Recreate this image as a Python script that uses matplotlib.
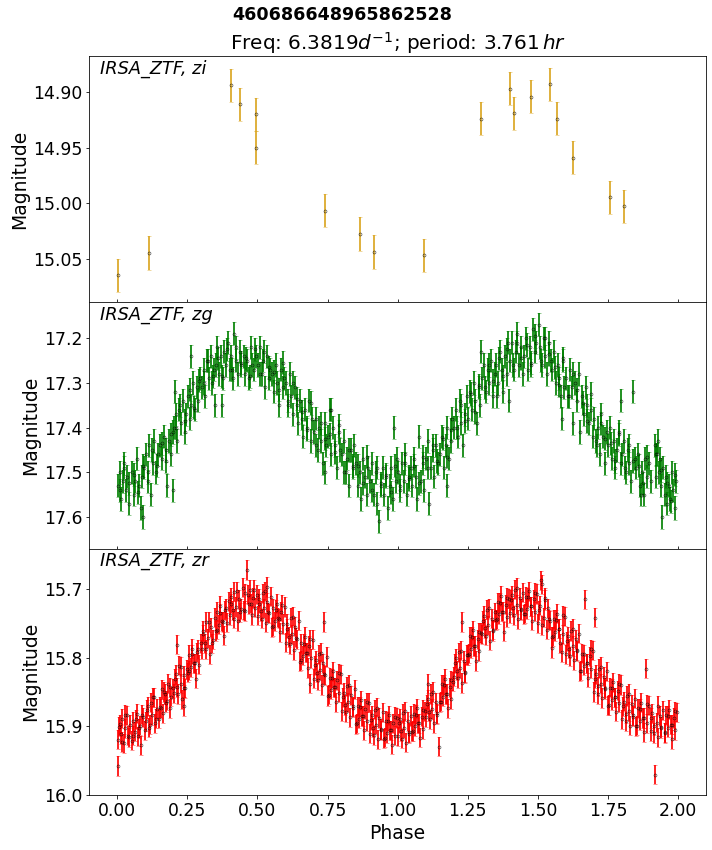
import numpy as np
import matplotlib
matplotlib.use("Agg")
import matplotlib.pyplot as plt

source_id = "460686648965862528"
freq = 6.3819
period_hr = 3.761

# (phase, magnitude)
zi_points = [
    (0.001, 15.065), (0.113, 15.045), (0.407, 14.894), (0.439, 14.911), (0.496, 14.920),
    (0.496, 14.950), (0.742, 15.007), (0.867, 15.028), (0.917, 15.044), (1.095, 15.047),
    (1.299, 14.924), (1.399, 14.897), (1.416, 14.919), (1.477, 14.904), (1.545, 14.893),
    (1.570, 14.924), (1.627, 14.959), (1.759, 14.995), (1.808, 15.003),
]

zg_points = [
    (0.002, 17.53), (0.008, 17.50), (0.013, 17.56), (0.019, 17.52), (0.024, 17.48), (0.031, 17.54), (0.036, 17.51), (0.043, 17.57),
    (0.052, 17.50), (0.058, 17.55), (0.064, 17.52), (0.071, 17.47), (0.077, 17.53), (0.083, 17.58), (0.089, 17.51), (0.093, 17.60), (0.095, 17.49),
    (0.102, 17.46), (0.108, 17.52), (0.113, 17.44), (0.119, 17.55), (0.126, 17.48), (0.132, 17.43), (0.138, 17.50), (0.145, 17.46),
    (0.153, 17.44), (0.159, 17.47), (0.166, 17.42), (0.172, 17.45), (0.178, 17.53), (0.185, 17.43), (0.191, 17.46), (0.197, 17.41), (0.200, 17.54),
    (0.203, 17.40), (0.206, 17.32), (0.209, 17.37), (0.214, 17.43), (0.221, 17.36), (0.227, 17.39), (0.233, 17.34), (0.240, 17.41), (0.246, 17.37),
    (0.252, 17.33), (0.258, 17.38), (0.263, 17.24), (0.263, 17.35), (0.270, 17.30), (0.276, 17.36), (0.283, 17.31), (0.289, 17.34), (0.295, 17.29),
    (0.302, 17.31), (0.308, 17.27), (0.314, 17.33), (0.320, 17.25), (0.327, 17.29), (0.333, 17.24), (0.339, 17.30), (0.345, 17.27), (0.348, 17.35),
    (0.352, 17.26), (0.357, 17.22), (0.363, 17.28), (0.369, 17.24), (0.372, 17.35), (0.376, 17.29), (0.382, 17.23), (0.388, 17.26), (0.394, 17.21),
    (0.401, 17.27), (0.406, 17.24), (0.412, 17.29), (0.417, 17.19), (0.423, 17.25), (0.429, 17.28), (0.436, 17.23), (0.442, 17.26),
    (0.451, 17.24), (0.457, 17.28), (0.463, 17.25), (0.469, 17.29), (0.476, 17.22), (0.482, 17.26), (0.489, 17.27), (0.495, 17.24),
    (0.503, 17.26), (0.509, 17.22), (0.515, 17.28), (0.521, 17.25), (0.528, 17.31), (0.534, 17.24), (0.540, 17.29), (0.546, 17.27),
    (0.553, 17.28), (0.559, 17.32), (0.565, 17.26), (0.571, 17.30), (0.578, 17.35), (0.584, 17.27), (0.590, 17.31), (0.596, 17.29),
    (0.603, 17.30), (0.609, 17.34), (0.615, 17.28), (0.621, 17.33), (0.627, 17.37), (0.634, 17.31), (0.640, 17.35), (0.646, 17.39),
    (0.652, 17.34), (0.658, 17.38), (0.664, 17.42), (0.671, 17.36), (0.677, 17.40), (0.683, 17.34), (0.690, 17.43), (0.696, 17.38),
    (0.703, 17.41), (0.709, 17.38), (0.715, 17.45), (0.721, 17.40), (0.727, 17.43), (0.733, 17.48), (0.740, 17.39), (0.741, 17.50), (0.746, 17.44),
    (0.752, 17.42), (0.758, 17.36), (0.762, 17.36), (0.764, 17.46), (0.770, 17.40), (0.777, 17.44), (0.783, 17.49), (0.789, 17.41), (0.795, 17.45),
    (0.802, 17.46), (0.808, 17.43), (0.814, 17.50), (0.820, 17.47), (0.827, 17.53), (0.833, 17.45), (0.839, 17.49), (0.845, 17.44),
    (0.852, 17.48), (0.858, 17.53), (0.864, 17.50), (0.871, 17.56), (0.877, 17.47), (0.883, 17.51), (0.889, 17.55), (0.895, 17.49),
    (0.902, 17.52), (0.908, 17.48), (0.914, 17.55), (0.921, 17.50), (0.927, 17.57), (0.934, 17.61), (0.940, 17.53), (0.946, 17.49),
    (0.952, 17.55), (0.958, 17.51), (0.964, 17.58), (0.971, 17.53), (0.977, 17.49), (0.983, 17.56), (0.987, 17.40), (0.993, 17.52), (0.998, 17.47),
    (1.003, 17.50), (1.009, 17.54), (1.015, 17.48), (1.021, 17.52), (1.027, 17.46), (1.034, 17.55), (1.040, 17.51), (1.046, 17.49),
    (1.052, 17.53), (1.058, 17.47), (1.064, 17.51), (1.070, 17.56), (1.077, 17.42), (1.083, 17.52), (1.089, 17.48), (1.095, 17.54),
    (1.102, 17.47), (1.108, 17.43), (1.112, 17.57), (1.119, 17.49), (1.125, 17.45), (1.131, 17.51), (1.138, 17.44), (1.144, 17.48),
    (1.152, 17.46), (1.158, 17.42), (1.164, 17.49), (1.171, 17.44), (1.175, 17.53), (1.177, 17.40), (1.183, 17.47), (1.189, 17.43), (1.195, 17.38),
    (1.202, 17.40), (1.208, 17.36), (1.214, 17.42), (1.221, 17.34), (1.227, 17.39), (1.233, 17.44), (1.240, 17.37), (1.246, 17.33),
    (1.252, 17.38), (1.258, 17.32), (1.264, 17.36), (1.271, 17.30), (1.277, 17.34), (1.283, 17.39), (1.289, 17.31), (1.295, 17.35), (1.298, 17.23),
    (1.302, 17.29), (1.308, 17.26), (1.314, 17.32), (1.321, 17.27), (1.327, 17.30), (1.333, 17.25), (1.340, 17.33), (1.346, 17.28),
    (1.352, 17.26), (1.354, 17.33), (1.358, 17.30), (1.364, 17.23), (1.371, 17.27), (1.377, 17.32), (1.383, 17.24), (1.389, 17.28), (1.395, 17.21), (1.398, 17.34),
    (1.402, 17.25), (1.408, 17.21), (1.414, 17.27), (1.421, 17.23), (1.427, 17.19), (1.433, 17.26), (1.440, 17.22), (1.446, 17.28),
    (1.452, 17.24), (1.458, 17.20), (1.464, 17.27), (1.471, 17.22), (1.477, 17.26), (1.483, 17.18), (1.489, 17.23), (1.495, 17.21),
    (1.503, 17.17), (1.508, 17.22), (1.514, 17.26), (1.521, 17.20), (1.527, 17.24), (1.533, 17.28), (1.540, 17.21), (1.546, 17.25),
    (1.552, 17.27), (1.558, 17.23), (1.564, 17.30), (1.571, 17.26), (1.577, 17.29), (1.583, 17.33), (1.587, 17.38), (1.589, 17.25), (1.595, 17.31),
    (1.602, 17.29), (1.608, 17.33), (1.614, 17.27), (1.621, 17.31), (1.627, 17.39), (1.634, 17.30), (1.640, 17.34), (1.646, 17.28),
    (1.652, 17.41), (1.658, 17.33), (1.664, 17.37), (1.671, 17.31), (1.677, 17.35), (1.683, 17.39), (1.690, 17.36), (1.696, 17.42),
    (1.702, 17.38), (1.708, 17.43), (1.714, 17.40), (1.721, 17.46), (1.727, 17.37), (1.733, 17.42), (1.740, 17.48), (1.746, 17.41),
    (1.752, 17.44), (1.758, 17.40), (1.764, 17.47), (1.771, 17.43), (1.777, 17.49), (1.783, 17.45), (1.789, 17.41), (1.795, 17.48), (1.797, 17.34),
    (1.802, 17.46), (1.808, 17.43), (1.814, 17.50), (1.821, 17.45), (1.827, 17.48), (1.833, 17.52), (1.840, 17.32), (1.846, 17.47),
    (1.852, 17.49), (1.858, 17.46), (1.864, 17.53), (1.868, 17.55), (1.871, 17.50), (1.877, 17.55), (1.883, 17.47), (1.889, 17.51), (1.895, 17.48),
    (1.903, 17.52), (1.918, 17.44), (1.922, 17.46), (1.927, 17.43), (1.931, 17.50), (1.936, 17.47), (1.940, 17.53), (1.943, 17.60), (1.947, 17.49),
    (1.952, 17.55), (1.957, 17.51), (1.962, 17.57), (1.967, 17.53), (1.972, 17.56), (1.977, 17.50), (1.983, 17.54), (1.988, 17.58), (1.994, 17.52),
    # second, denser pass over the same curve
    (0.010, 17.54), (0.025, 17.49), (0.040, 17.525), (0.060, 17.505), (0.075, 17.545), (0.090, 17.485),
    (0.110, 17.50), (0.125, 17.45), (0.140, 17.485), (0.160, 17.435), (0.175, 17.475), (0.190, 17.415),
    (0.210, 17.40), (0.225, 17.35), (0.240, 17.385), (0.260, 17.315), (0.275, 17.355), (0.290, 17.295),
    (0.310, 17.30), (0.325, 17.25), (0.340, 17.285), (0.360, 17.245), (0.375, 17.285), (0.390, 17.225),
    (0.410, 17.27), (0.425, 17.22), (0.440, 17.255), (0.460, 17.245), (0.475, 17.285), (0.490, 17.225),
    (0.510, 17.28), (0.525, 17.23), (0.540, 17.265), (0.560, 17.275), (0.575, 17.315), (0.590, 17.255),
    (0.610, 17.35), (0.625, 17.30), (0.640, 17.335), (0.660, 17.365), (0.675, 17.405), (0.690, 17.345),
    (0.710, 17.44), (0.725, 17.39), (0.740, 17.425), (0.760, 17.415), (0.775, 17.455), (0.790, 17.395),
    (0.810, 17.50), (0.825, 17.45), (0.840, 17.485), (0.860, 17.485), (0.875, 17.525), (0.890, 17.465),
    (0.910, 17.54), (0.925, 17.49), (0.940, 17.525), (0.960, 17.505), (0.975, 17.545), (0.990, 17.485),
    (1.010, 17.53), (1.025, 17.48), (1.040, 17.515), (1.060, 17.485), (1.075, 17.525), (1.090, 17.465),
    (1.110, 17.49), (1.125, 17.44), (1.140, 17.475), (1.160, 17.425), (1.175, 17.465), (1.190, 17.405),
    (1.210, 17.40), (1.225, 17.35), (1.240, 17.385), (1.260, 17.325), (1.275, 17.365), (1.290, 17.305),
    (1.310, 17.31), (1.325, 17.26), (1.340, 17.295), (1.360, 17.245), (1.375, 17.285), (1.390, 17.225),
    (1.410, 17.26), (1.425, 17.21), (1.440, 17.245), (1.460, 17.215), (1.475, 17.255), (1.490, 17.195),
    (1.510, 17.25), (1.525, 17.20), (1.540, 17.235), (1.560, 17.265), (1.575, 17.305), (1.590, 17.245),
    (1.610, 17.33), (1.625, 17.28), (1.640, 17.315), (1.660, 17.345), (1.675, 17.385), (1.690, 17.325),
    (1.710, 17.44), (1.725, 17.39), (1.740, 17.425), (1.760, 17.435), (1.775, 17.475), (1.790, 17.415),
    (1.810, 17.49), (1.825, 17.44), (1.840, 17.475), (1.860, 17.485), (1.875, 17.525), (1.890, 17.465),
    (1.920, 17.51), (1.925, 17.46), (1.940, 17.495), (1.960, 17.525), (1.975, 17.565), (1.990, 17.505),
]

zr_points = [
    (0.002, 15.920), (0.004, 15.958), (0.008, 15.897), (0.013, 15.912), (0.018, 15.889), (0.023, 15.925), (0.029, 15.903), (0.035, 15.884), (0.041, 15.916), (0.046, 15.898),
    (0.052, 15.921), (0.057, 15.893), (0.063, 15.908), (0.069, 15.882), (0.074, 15.915), (0.080, 15.899), (0.086, 15.928), (0.091, 15.887), (0.097, 15.906),
    (0.102, 15.893), (0.108, 15.871), (0.113, 15.902), (0.119, 15.866), (0.125, 15.884), (0.131, 15.858), (0.136, 15.896), (0.142, 15.875), (0.147, 15.889),
    (0.153, 15.872), (0.158, 15.846), (0.164, 15.881), (0.170, 15.853), (0.175, 15.866), (0.181, 15.838), (0.187, 15.874), (0.192, 15.857), (0.198, 15.845),
    (0.203, 15.852), (0.209, 15.824), (0.212, 15.781), (0.214, 15.843), (0.220, 15.812), (0.226, 15.838), (0.231, 15.861), (0.237, 15.826), (0.238, 15.871), (0.243, 15.845), (0.248, 15.817),
    (0.252, 15.822), (0.257, 15.796), (0.263, 15.814), (0.268, 15.787), (0.274, 15.808), (0.280, 15.831), (0.285, 15.792), (0.291, 15.810), (0.297, 15.779),
    (0.302, 15.788), (0.307, 15.761), (0.313, 15.779), (0.318, 15.748), (0.324, 15.772), (0.330, 15.795), (0.335, 15.756), (0.341, 15.774), (0.347, 15.742),
    (0.352, 15.761), (0.357, 15.733), (0.363, 15.752), (0.368, 15.724), (0.374, 15.747), (0.380, 15.768), (0.385, 15.731), (0.391, 15.749), (0.397, 15.718),
    (0.402, 15.738), (0.407, 15.712), (0.413, 15.731), (0.418, 15.704), (0.424, 15.726), (0.430, 15.747), (0.435, 15.715), (0.441, 15.729), (0.447, 15.698),
    (0.452, 15.731), (0.457, 15.706), (0.463, 15.672), (0.468, 15.722), (0.474, 15.701), (0.480, 15.738), (0.485, 15.713), (0.491, 15.727), (0.497, 15.708),
    (0.502, 15.739), (0.507, 15.714), (0.513, 15.732), (0.518, 15.706), (0.524, 15.728), (0.530, 15.749), (0.534, 15.697), (0.535, 15.719), (0.541, 15.735), (0.547, 15.711),
    (0.552, 15.756), (0.557, 15.728), (0.563, 15.747), (0.568, 15.721), (0.574, 15.742), (0.580, 15.763), (0.585, 15.733), (0.591, 15.751), (0.597, 15.726),
    (0.602, 15.778), (0.607, 15.751), (0.613, 15.770), (0.618, 15.742), (0.624, 15.766), (0.630, 15.789), (0.635, 15.755), (0.641, 15.773), (0.647, 15.746),
    (0.652, 15.806), (0.657, 15.779), (0.663, 15.797), (0.668, 15.770), (0.674, 15.793), (0.680, 15.815), (0.685, 15.783), (0.689, 15.838), (0.691, 15.801), (0.697, 15.774),
    (0.702, 15.831), (0.707, 15.804), (0.713, 15.822), (0.718, 15.795), (0.724, 15.818), (0.730, 15.840), (0.735, 15.808), (0.736, 15.748), (0.741, 15.826), (0.747, 15.799),
    (0.752, 15.856), (0.757, 15.829), (0.763, 15.847), (0.768, 15.820), (0.774, 15.843), (0.780, 15.865), (0.785, 15.833), (0.791, 15.851), (0.797, 15.824),
    (0.802, 15.878), (0.807, 15.851), (0.813, 15.869), (0.818, 15.842), (0.824, 15.865), (0.830, 15.887), (0.835, 15.855), (0.841, 15.873), (0.847, 15.846),
    (0.852, 15.897), (0.857, 15.871), (0.863, 15.889), (0.868, 15.862), (0.874, 15.885), (0.880, 15.906), (0.885, 15.875), (0.891, 15.893), (0.897, 15.866),
    (0.902, 15.911), (0.907, 15.884), (0.913, 15.902), (0.918, 15.876), (0.924, 15.898), (0.930, 15.919), (0.935, 15.888), (0.941, 15.906), (0.947, 15.880),
    (0.952, 15.918), (0.957, 15.892), (0.963, 15.910), (0.968, 15.884), (0.974, 15.906), (0.980, 15.927), (0.985, 15.896), (0.991, 15.914), (0.997, 15.888),
    (1.002, 15.915), (1.008, 15.889), (1.013, 15.907), (1.019, 15.881), (1.024, 15.903), (1.030, 15.924), (1.036, 15.893), (1.041, 15.911), (1.047, 15.885),
    (1.052, 15.908), (1.058, 15.882), (1.063, 15.900), (1.069, 15.874), (1.074, 15.896), (1.080, 15.917), (1.086, 15.886), (1.091, 15.904), (1.097, 15.878),
    (1.102, 15.887), (1.108, 15.861), (1.110, 15.838), (1.113, 15.879), (1.119, 15.853), (1.124, 15.875), (1.130, 15.896), (1.136, 15.865), (1.141, 15.883), (1.146, 15.930),
    (1.152, 15.865), (1.158, 15.839), (1.163, 15.857), (1.169, 15.831), (1.174, 15.853), (1.180, 15.874), (1.186, 15.843), (1.191, 15.861), (1.197, 15.835),
    (1.202, 15.828), (1.208, 15.801), (1.213, 15.819), (1.219, 15.792), (1.224, 15.815), (1.228, 15.748), (1.230, 15.837), (1.236, 15.805), (1.241, 15.823), (1.247, 15.796),
    (1.252, 15.796), (1.258, 15.769), (1.263, 15.787), (1.269, 15.760), (1.274, 15.783), (1.280, 15.805), (1.286, 15.773), (1.291, 15.791), (1.297, 15.764),
    (1.302, 15.766), (1.308, 15.739), (1.313, 15.757), (1.319, 15.730), (1.324, 15.753), (1.330, 15.775), (1.336, 15.743), (1.341, 15.761), (1.347, 15.734),
    (1.352, 15.745), (1.358, 15.719), (1.363, 15.737), (1.369, 15.710), (1.374, 15.733), (1.380, 15.762), (1.386, 15.723), (1.391, 15.741), (1.397, 15.714),
    (1.402, 15.735), (1.408, 15.709), (1.413, 15.727), (1.419, 15.701), (1.424, 15.723), (1.430, 15.744), (1.436, 15.713), (1.441, 15.731), (1.447, 15.705),
    (1.452, 15.737), (1.458, 15.711), (1.463, 15.729), (1.469, 15.703), (1.474, 15.725), (1.480, 15.746), (1.486, 15.715), (1.491, 15.733), (1.497, 15.707),
    (1.502, 15.750), (1.508, 15.724), (1.512, 15.687), (1.516, 15.693), (1.521, 15.742), (1.527, 15.716), (1.533, 15.759), (1.538, 15.728), (1.544, 15.746), (1.549, 15.786),
    (1.552, 15.770), (1.558, 15.744), (1.563, 15.762), (1.569, 15.736), (1.574, 15.758), (1.580, 15.779), (1.585, 15.792), (1.591, 15.766), (1.597, 15.740),
    (1.602, 15.795), (1.608, 15.769), (1.613, 15.787), (1.619, 15.761), (1.624, 15.783), (1.630, 15.804), (1.636, 15.773), (1.641, 15.791), (1.647, 15.765),
    (1.652, 15.820), (1.658, 15.794), (1.663, 15.812), (1.669, 15.715), (1.674, 15.808), (1.680, 15.829), (1.686, 15.798), (1.691, 15.816), (1.697, 15.790),
    (1.702, 15.850), (1.704, 15.742), (1.708, 15.824), (1.713, 15.842), (1.719, 15.816), (1.724, 15.838), (1.730, 15.859), (1.736, 15.828), (1.741, 15.846), (1.747, 15.820),
    (1.752, 15.870), (1.758, 15.844), (1.763, 15.862), (1.769, 15.836), (1.774, 15.858), (1.780, 15.879), (1.786, 15.848), (1.791, 15.866), (1.797, 15.840),
    (1.802, 15.890), (1.808, 15.864), (1.813, 15.882), (1.819, 15.856), (1.824, 15.878), (1.830, 15.899), (1.836, 15.868), (1.841, 15.886), (1.847, 15.860),
    (1.852, 15.900), (1.858, 15.874), (1.863, 15.892), (1.869, 15.866), (1.874, 15.888), (1.880, 15.909), (1.886, 15.816), (1.891, 15.896), (1.897, 15.870),
    (1.902, 15.907), (1.908, 15.881), (1.913, 15.899), (1.919, 15.971), (1.924, 15.895), (1.930, 15.916), (1.936, 15.885), (1.941, 15.903), (1.947, 15.877),
    (1.952, 15.910), (1.958, 15.884), (1.963, 15.902), (1.969, 15.876), (1.974, 15.898), (1.980, 15.919), (1.986, 15.888), (1.991, 15.906), (1.997, 15.880),
    # second, denser pass over the same curve
    (0.005, 15.901), (0.016, 15.923), (0.027, 15.883), (0.039, 15.914), (0.055, 15.914), (0.066, 15.890), (0.077, 15.903), (0.089, 15.883),
    (0.105, 15.876), (0.116, 15.898), (0.127, 15.858), (0.139, 15.889), (0.155, 15.874), (0.166, 15.850), (0.177, 15.863), (0.189, 15.843),
    (0.205, 15.831), (0.216, 15.853), (0.227, 15.813), (0.239, 15.844), (0.255, 15.819), (0.266, 15.795), (0.277, 15.808), (0.289, 15.788),
    (0.305, 15.766), (0.316, 15.788), (0.327, 15.748), (0.339, 15.779), (0.355, 15.759), (0.366, 15.735), (0.377, 15.748), (0.389, 15.728),
    (0.405, 15.721), (0.416, 15.743), (0.427, 15.703), (0.439, 15.734), (0.455, 15.732), (0.466, 15.708), (0.477, 15.721), (0.489, 15.701),
    (0.505, 15.721), (0.516, 15.743), (0.527, 15.703), (0.539, 15.734), (0.555, 15.754), (0.566, 15.730), (0.577, 15.743), (0.589, 15.723),
    (0.605, 15.758), (0.616, 15.780), (0.627, 15.740), (0.639, 15.771), (0.655, 15.804), (0.666, 15.780), (0.677, 15.793), (0.689, 15.773),
    (0.705, 15.811), (0.716, 15.833), (0.727, 15.793), (0.739, 15.824), (0.755, 15.854), (0.766, 15.830), (0.777, 15.843), (0.789, 15.823),
    (0.805, 15.858), (0.816, 15.880), (0.827, 15.840), (0.839, 15.871), (0.855, 15.896), (0.866, 15.872), (0.877, 15.885), (0.889, 15.865),
    (0.905, 15.891), (0.916, 15.913), (0.927, 15.873), (0.939, 15.904), (0.955, 15.917), (0.966, 15.893), (0.977, 15.906), (0.989, 15.886),
    (1.005, 15.896), (1.016, 15.918), (1.027, 15.878), (1.039, 15.909), (1.055, 15.907), (1.066, 15.883), (1.077, 15.896), (1.089, 15.876),
    (1.105, 15.868), (1.116, 15.890), (1.127, 15.850), (1.139, 15.881), (1.155, 15.864), (1.166, 15.840), (1.177, 15.853), (1.189, 15.833),
    (1.205, 15.808), (1.216, 15.830), (1.227, 15.790), (1.239, 15.821), (1.255, 15.794), (1.266, 15.770), (1.277, 15.783), (1.289, 15.763),
    (1.305, 15.746), (1.316, 15.768), (1.327, 15.728), (1.339, 15.759), (1.355, 15.744), (1.366, 15.720), (1.377, 15.733), (1.389, 15.713),
    (1.405, 15.716), (1.416, 15.738), (1.427, 15.698), (1.439, 15.729), (1.455, 15.736), (1.466, 15.712), (1.477, 15.725), (1.489, 15.705),
    (1.505, 15.731), (1.516, 15.753), (1.527, 15.713), (1.539, 15.744), (1.555, 15.769), (1.566, 15.745), (1.577, 15.758), (1.589, 15.738),
    (1.605, 15.776), (1.616, 15.798), (1.627, 15.758), (1.639, 15.789), (1.655, 15.819), (1.666, 15.795), (1.677, 15.808), (1.689, 15.788),
    (1.705, 15.831), (1.716, 15.853), (1.727, 15.813), (1.739, 15.844), (1.755, 15.869), (1.766, 15.845), (1.777, 15.858), (1.789, 15.838),
    (1.805, 15.871), (1.816, 15.893), (1.827, 15.853), (1.839, 15.884), (1.855, 15.899), (1.866, 15.875), (1.877, 15.888), (1.889, 15.868),
    (1.905, 15.888), (1.916, 15.910), (1.927, 15.870), (1.939, 15.901), (1.955, 15.909), (1.966, 15.885), (1.977, 15.898), (1.989, 15.878),
]

# typical photometric error per band
zi_err = 0.015
zg_err = 0.026
zr_err = 0.014

bands = ["zi", "zg", "zr"]
band_points = [zi_points, zg_points, zr_points]
band_errs = [zi_err, zg_err, zr_err]
band_colors = ["goldenrod", "green", "red"]
band_ylims = [(15.0895, 14.8675), (17.671, 17.1196), (16.0004, 15.641)]
band_yticks = [[14.90, 14.95, 15.00, 15.05], [17.2, 17.3, 17.4, 17.5, 17.6], [15.7, 15.8, 15.9, 16.0]]

plt.rcParams["font.size"] = 17.2

fig, axes = plt.subplots(3, 1, sharex=True, figsize=(712 / 72, 850 / 72), dpi=72)
fig.subplots_adjust(left=0.1254, right=0.9916, top=0.9341, bottom=0.0647, hspace=0)

for i, ax in enumerate(axes):
    pts = np.array(band_points[i])
    ax.errorbar(pts[:, 0], pts[:, 1], yerr=band_errs[i], fmt="o", ms=3,
                mfc="none", mec="k", mew=0.5, ecolor=band_colors[i],
                elinewidth=2, capsize=2, capthick=1, alpha=0.85)
    ax.set_ylim(*band_ylims[i])
    ax.set_yticks(band_yticks[i])
    ax.set_ylabel("Magnitude", fontsize=18.7)
    ax.text(0.018, 0.985, "IRSA_ZTF, " + bands[i], transform=ax.transAxes,
            va="top", ha="left", style="italic", fontsize=17.8)
    ax.tick_params(length=3.5, labelsize=17.2)
    if i < 2:
        ax.tick_params(axis="x", direction="in", length=3)

axes[0].yaxis.set_major_formatter(matplotlib.ticker.FormatStrFormatter("%.2f"))
axes[2].set_xticks([0.0, 0.25, 0.5, 0.75, 1.0, 1.25, 1.5, 1.75, 2.0])
axes[2].xaxis.set_major_formatter(matplotlib.ticker.FormatStrFormatter("%.2f"))
axes[2].set_xlim(-0.1, 2.1)
axes[2].set_xlabel("Phase", fontsize=18.7)

axes[0].set_title(r"Freq: %.4f$d^{-1}$; period: %.3f$\,hr$" % (freq, period_hr), fontsize=20)
fig.suptitle(source_id, fontweight="bold", fontsize=17.5, x=0.48, y=0.993, va="top")

fig.savefig("out.png", dpi=72)
plt.close()
